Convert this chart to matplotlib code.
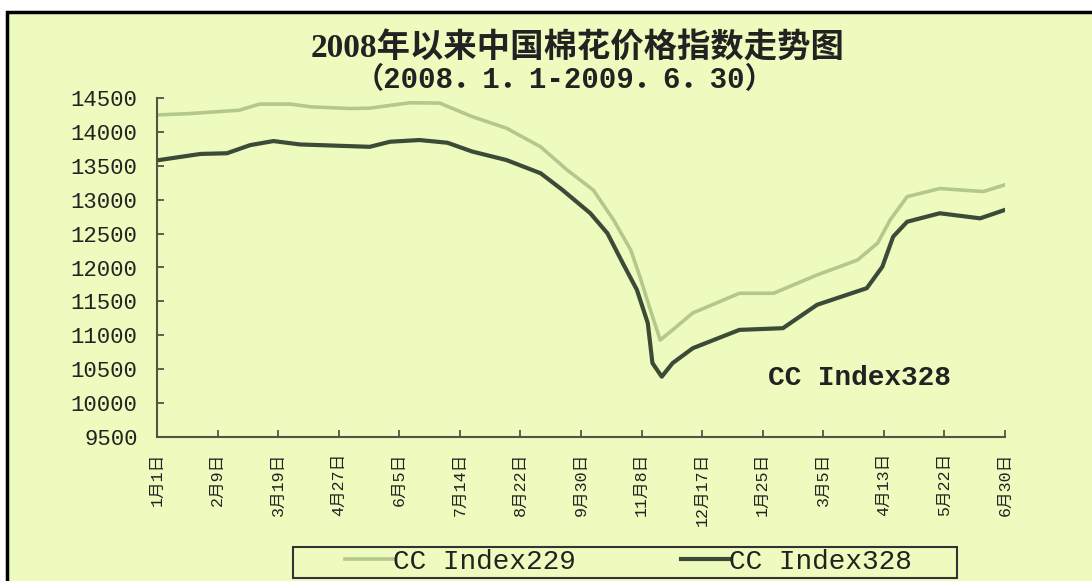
import numpy as np
import matplotlib.pyplot as plt
from matplotlib.patches import Rectangle

# 日期偏移(天, 从2008-01-01起) 与指数值
days_229 = [0, 21, 53, 66, 86, 99, 124, 137, 163, 182, 203, 225, 247, 264, 281,
            294, 305, 311, 317, 324, 332, 345, 375, 397, 425, 451, 464, 472, 483,
            504, 532, 546]
index_229 = [14250, 14270, 14320, 14410, 14410, 14370, 14345, 14350, 14430, 14425,
             14225, 14055, 13780, 13440, 13140, 12700, 12260, 11860, 11420, 10930,
             11080, 11330, 11620, 11620, 11890, 12110, 12360, 12700, 13045, 13165,
             13120, 13220]

days_328 = [0, 28, 45, 60, 75, 92, 124, 137, 150, 169, 187, 203, 225, 247, 261,
            279, 290, 300, 309, 316, 319, 325, 332, 345, 375, 403, 425, 457, 467,
            474, 483, 504, 530, 546]
index_328 = [13580, 13675, 13685, 13805, 13865, 13815, 13790, 13780, 13855, 13880,
             13840, 13710, 13585, 13390, 13145, 12800, 12505, 12060, 11670, 11180,
             10590, 10390, 10590, 10810, 11080, 11105, 11450, 11695, 12010, 12455,
             12675, 12800, 12725, 12850]

tick_days = [0, 39, 78, 117, 156, 195, 234, 273, 312, 351, 390, 429, 468, 507, 546]
tick_labels = ['1月1日', '2月9日', '3月19日', '4月27日', '6月5日', '7月14日', '8月22日',
               '9月30日', '11月8日', '12月17日', '1月25日', '3月5日', '4月13日',
               '5月22日', '6月30日']

bg = '#EEFBBE'
light = '#B4C88E'
dark = '#3C4A38'
axis_c = '#4E5646'
mono_cjk = ['Liberation Mono', 'Noto Sans CJK SC']

W, H = 1092, 581
fig = plt.figure(figsize=(W / 100, H / 100), dpi=100)
fig.patch.set_facecolor('white')

# 外框
fig.patches.append(Rectangle((7 / W, -0.05), 1.1, 1.05 - 11.5 / H,
                             transform=fig.transFigure, facecolor=bg,
                             edgecolor='black', linewidth=2.5, zorder=-5))

ax = fig.add_axes([157 / W, 1 - 437 / H, 848 / W, 339 / H])
ax.patch.set_visible(False)

ax.plot(days_229, index_229, color=light, lw=2.6, label='CC Index229')
ax.plot(days_328, index_328, color=dark, lw=3.0, label='CC Index328')

ax.set_xlim(0, 546)
ax.set_ylim(9500, 14500)
ax.set_yticks(np.arange(9500, 14501, 500))
ax.set_xticks(tick_days)
ax.set_xticklabels(tick_labels, rotation=90, family=mono_cjk, fontsize=12)
for lab in ax.get_yticklabels():
    lab.set_family('Liberation Mono')
    lab.set_fontsize(16)

for s in ['top', 'right']:
    ax.spines[s].set_visible(False)
for s in ['left', 'bottom']:
    ax.spines[s].set_color(axis_c)
    ax.spines[s].set_linewidth(1.5)
ax.tick_params(direction='in', length=5, width=1.3, color=axis_c, labelcolor='#222222')
ax.tick_params(axis='y', pad=14)
ax.tick_params(axis='x', pad=11)

ax.text(0.7205, 0.174, 'CC Index328', transform=ax.transAxes, ha='left', va='center',
        family='Liberation Mono', fontweight='bold', fontsize=20, color='#222222')

# 标题
fig.text(578 / W, 1 - 49 / H, '2008年以来中国棉花价格指数走势图', ha='center', va='center',
         family=['Liberation Serif', 'Noto Sans CJK SC'], fontweight='bold',
         fontsize=24, color='#222222')
fig.text(565 / W, 1 - 80 / H, '（2008．1．1-2009．6．30）', ha='center', va='center',
         family=mono_cjk, fontweight='bold', fontsize=21, color='#222222')

# 图例
fig.patches.append(Rectangle((293 / W, 1 - 578 / H), 664 / W, 31 / H,
                             transform=fig.transFigure, facecolor='none',
                             edgecolor='#333333', linewidth=1.5))
leg = ax.legend(loc='center', bbox_to_anchor=(628 / W, 1 - 562 / H),
                bbox_transform=fig.transFigure, ncol=2, frameon=False,
                prop={'family': 'Liberation Mono', 'size': 20},
                handlelength=1.73, handletextpad=0.0, columnspacing=3.78,
                borderpad=0.0)
for t in leg.get_texts():
    t.set_color('#222222')

fig.savefig('out.png', dpi=100, facecolor=fig.get_facecolor())
